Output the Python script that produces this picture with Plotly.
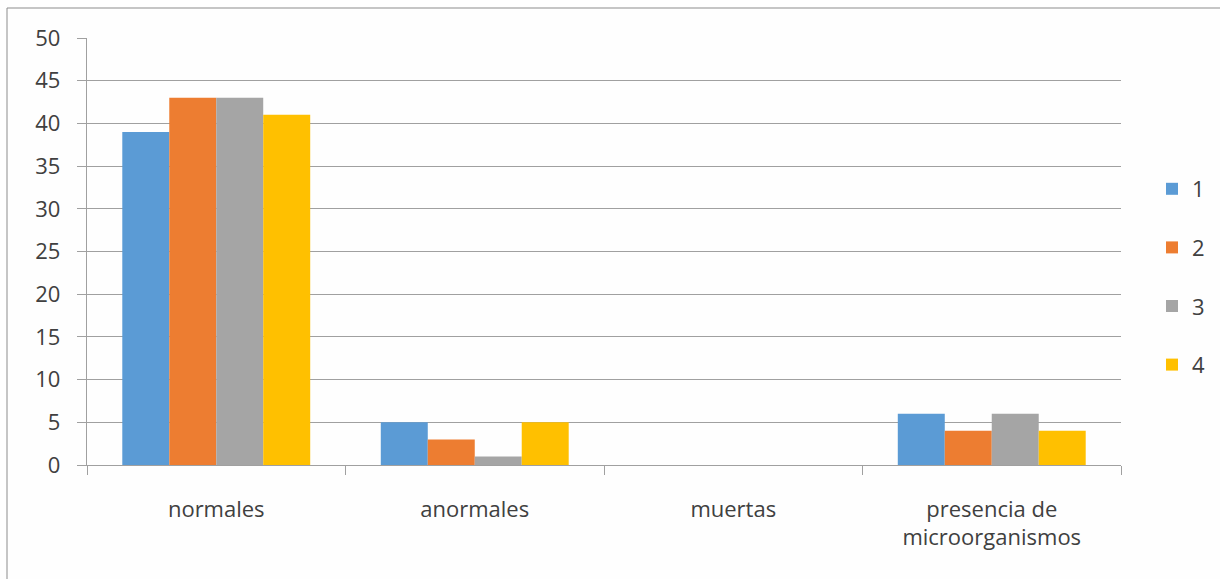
import plotly.graph_objects as go

categories = ["normales", "anormales", "muertas", "presencia de<br>microorganismos"]
series_names = ["1", "2", "3", "4"]
s1 = [39, 5, 0, 6]
s2 = [43, 3, 0, 4]
s3 = [43, 1, 0, 6]
s4 = [41, 5, 0, 4]
colors = ["#5B9BD5", "#ED7D31", "#A5A5A5", "#FFC000"]
y_ticks = [0, 5, 10, 15, 20, 25, 30, 35, 40, 45, 50]

fig = go.Figure()
for i, (name, vals) in enumerate(zip(series_names, [s1, s2, s3, s4])):
    fig.add_trace(go.Bar(x=categories, y=vals, name=name, marker_color=colors[i],
                         marker_line_width=0, legendgroup=name))

font_family = "Open Sans, Liberation Sans, sans-serif"
fs = 22
fig.update_layout(
    width=1220, height=579,
    margin=dict(l=87, r=99, t=38, b=114),
    paper_bgcolor="#FEFEFE", plot_bgcolor="#FEFEFE",
    barmode="group", bargap=0.273, bargroupgap=0,
    font=dict(family=font_family, size=fs, color="#404040"),
    showlegend=True,
    legend=dict(xref="container", yref="container", x=1152 / 1220, xanchor="left",
                y=1 - 168 / 579, yanchor="top",
                font=dict(size=fs, color="#404040"),
                traceorder="grouped", tracegroupgap=27,
                bgcolor="rgba(0,0,0,0)"),
    xaxis=dict(showgrid=False, showline=True, linecolor="#A0A0A0", linewidth=1.3,
               ticks="outside", tickson="boundaries", ticklen=9, tickcolor="#A0A0A0",
               tickwidth=1.3,
               tickfont=dict(size=fs, color="#404040"), ticklabelstandoff=24),
    yaxis=dict(range=[0, 50], tickvals=y_ticks, showgrid=True, gridcolor="#A0A0A0",
               gridwidth=1.3, zeroline=False, showline=True, linecolor="#A0A0A0",
               linewidth=1.3, ticks="outside", ticklen=9, tickcolor="#A0A0A0", tickwidth=1.3,
               tickfont=dict(size=fs, color="#404040"), ticklabelstandoff=12),
    shapes=[dict(type="rect", xref="paper", yref="paper",
                 x0=(7 - 87) / 1034, x1=(1225 - 87) / 1034,
                 y0=(465 - 585) / 427, y1=(465 - 8) / 427,
                 line=dict(color="#8C8C8C", width=1), fillcolor="rgba(0,0,0,0)",
                 layer="below")],
)

fig.write_html("out.html")
